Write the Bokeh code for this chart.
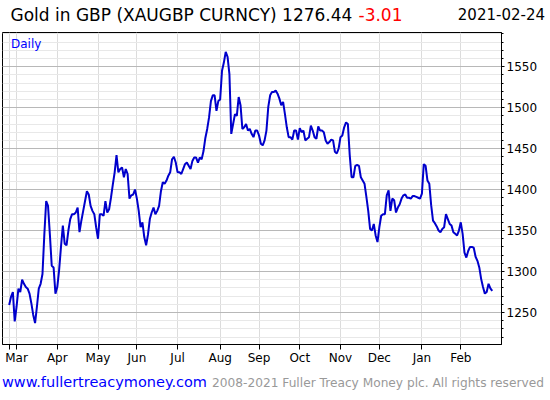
from bokeh.plotting import figure
from bokeh.layouts import column
from bokeh.models import Label, FixedTicker, SingleIntervalTicker, Range1d, ColumnDataSource, Div
from bokeh.embed import file_html
from bokeh.resources import INLINE

# Daily gold price in GBP, one value per trading day (25 Feb 2020 .. 24 Feb 2021)
prices = [
    1259, 1269, 1275, 1239, 1257, 1279, 1275, 1290, 1285, 1281,
    1279, 1273, 1261, 1247, 1237, 1257, 1279, 1285, 1297, 1345,
    1386, 1380, 1345, 1307, 1305, 1273, 1281, 1302, 1330, 1356,
    1334, 1332, 1350, 1364, 1370, 1370, 1372, 1378, 1348, 1362,
    1374, 1386, 1398, 1394, 1380, 1374, 1370, 1354, 1340, 1370,
    1370, 1368, 1386, 1372, 1376, 1390, 1406, 1421, 1442, 1421,
    1425, 1427, 1415, 1425, 1419, 1389, 1393, 1394, 1400, 1389,
    1374, 1354, 1360, 1342, 1332, 1345, 1364, 1372, 1378, 1370,
    1374, 1380, 1398, 1409, 1407, 1411, 1417, 1421, 1437, 1440,
    1433, 1421, 1421, 1419, 1425, 1431, 1433, 1429, 1425, 1435,
    1439, 1439, 1433, 1439, 1437, 1447, 1463, 1474, 1488, 1508,
    1515, 1515, 1496, 1508, 1510, 1545, 1555, 1568, 1562, 1541,
    1468, 1480, 1492, 1490, 1513, 1503, 1474, 1476, 1480, 1472,
    1474, 1468, 1464, 1472, 1472, 1466, 1456, 1454, 1460, 1472,
    1501, 1515, 1519, 1519, 1521, 1517, 1511, 1503, 1507, 1492,
    1476, 1464, 1464, 1461, 1472, 1472, 1461, 1475, 1470, 1472,
    1460, 1462, 1464, 1478, 1472, 1464, 1462, 1477, 1472, 1472,
    1470, 1460, 1456, 1458, 1461, 1460, 1446, 1444, 1450, 1464,
    1466, 1476, 1482, 1480, 1442, 1415, 1415, 1429, 1430, 1429,
    1415, 1411, 1407, 1391, 1374, 1352, 1350, 1358, 1344, 1336,
    1354, 1368, 1370, 1370, 1393, 1399, 1374, 1389, 1387, 1372,
    1378, 1382, 1389, 1393, 1394, 1390, 1390, 1389, 1392, 1392,
    1391, 1390, 1389, 1395, 1431, 1429, 1411, 1407, 1381, 1362,
    1359, 1355, 1350, 1348, 1352, 1354, 1370, 1364, 1358, 1356,
    1348, 1346, 1344, 1350, 1360, 1346, 1323, 1317, 1325, 1330,
    1330, 1329, 1318, 1313, 1305, 1291, 1281, 1273, 1275, 1285,
    1279.45, 1276.44,
]
day = list(range(len(prices)))

# trading-day index of the first session of each month
month_ticks = [0, 4, 26, 48, 69, 91, 114, 135, 157, 179, 200, 223, 244]
month_labels = ["", "Mar", "Apr", "May", "Jun", "Jul", "Aug", "Sep", "Oct",
                "Nov", "Dec", "Jan", "Feb"]

title_text = "Gold in GBP (XAUGBP CURNCY) 1276.44"
change_text = "-3.01"
date_text = "2021-02-24"
period_text = "Daily"
url_text = "www.fullertreacymoney.com"
copyright_text = "2008-2021 Fuller Treacy Money plc. All rights reserved"

FONT = "DejaVu Sans"
W = 550


def span(text, css):
    return ('<span style="position:absolute;white-space:nowrap;'
            "font-family:'DejaVu Sans';" + css + '">' + text + '</span>')


def strip(height, spans):
    html = ('<div style="position:relative;width:%dpx;height:%dpx;overflow:visible;">'
            % (W, height)) + "".join(spans) + '</div>'
    return Div(text=html, width=W, height=height, margin=(0, 0, 0, 0),
               styles={"overflow": "visible", "padding": "0"})


# ---- header -------------------------------------------------------------
header = strip(32, [
    span(title_text, "left:10.5px;top:4.6px;font-size:17px;line-height:20px;color:#000;"),
    span(change_text, "left:358.5px;top:4.6px;font-size:17px;line-height:20px;color:#ff0000;"),
    span(date_text, "right:5px;top:5.3px;font-size:15px;line-height:20px;color:#000;"),
])

# ---- main chart ---------------------------------------------------------
p = figure(width=W, height=338, output_backend="svg", toolbar_location=None,
           x_range=Range1d(-3.6, 266.0), y_range=Range1d(1210.9, 1591.7),
           y_axis_location="right",
           min_border_left=2, min_border_right=49,
           min_border_top=0, min_border_bottom=26, margin=(0, 0, 0, 0))

p.background_fill_color = "white"
p.border_fill_color = "white"
p.outline_line_color = "black"
p.outline_line_width = 1

src = ColumnDataSource(dict(day=day, price=prices))
p.line("day", "price", source=src, line_color="#0000cc", line_width=2)

p.xaxis.ticker = FixedTicker(ticks=month_ticks)
p.xaxis.major_label_overrides = {t: l for t, l in zip(month_ticks, month_labels)}
p.xaxis.major_tick_out = 5
p.xaxis.major_tick_in = 0
p.xaxis.minor_tick_line_color = None
p.xaxis.major_label_standoff = 1
p.xaxis.major_label_text_font = FONT
p.xaxis.major_label_text_font_size = "12px"
p.xaxis.major_label_text_color = "black"
p.xaxis.axis_line_color = "black"

yt = SingleIntervalTicker(interval=50, num_minor_ticks=5)
p.yaxis.ticker = yt
p.yaxis.major_tick_out = 3
p.yaxis.major_tick_in = 0
p.yaxis.minor_tick_out = 2
p.yaxis.minor_tick_in = 0
p.yaxis.major_label_standoff = 2
p.yaxis.major_label_text_font = FONT
p.yaxis.major_label_text_font_size = "12px"
p.yaxis.major_label_text_color = "black"
p.yaxis.axis_line_color = "black"

p.xgrid.ticker = FixedTicker(ticks=month_ticks)
p.xgrid.grid_line_color = "#dcdcdc"
p.ygrid.ticker = yt
p.ygrid.grid_line_color = "#b8b8b8"
p.ygrid.minor_grid_line_color = "#e8e8e8"

p.add_layout(Label(x=8.5, y=301, x_units="screen", y_units="screen", text=period_text,
                   text_font=FONT, text_font_size="12px", text_color="#0000ff",
                   text_align="left", text_baseline="alphabetic"))

# ---- footer -------------------------------------------------------------
footer = strip(30, [
    span(url_text, "left:2px;top:3px;font-size:14.5px;line-height:18px;color:#0000ff;"),
    span(copyright_text, "left:212px;top:3.8px;font-size:12.2px;line-height:18px;color:#999999;"),
])

layout = column(header, p, footer, spacing=0)
open("out.html", "w").write(file_html(layout, INLINE))
